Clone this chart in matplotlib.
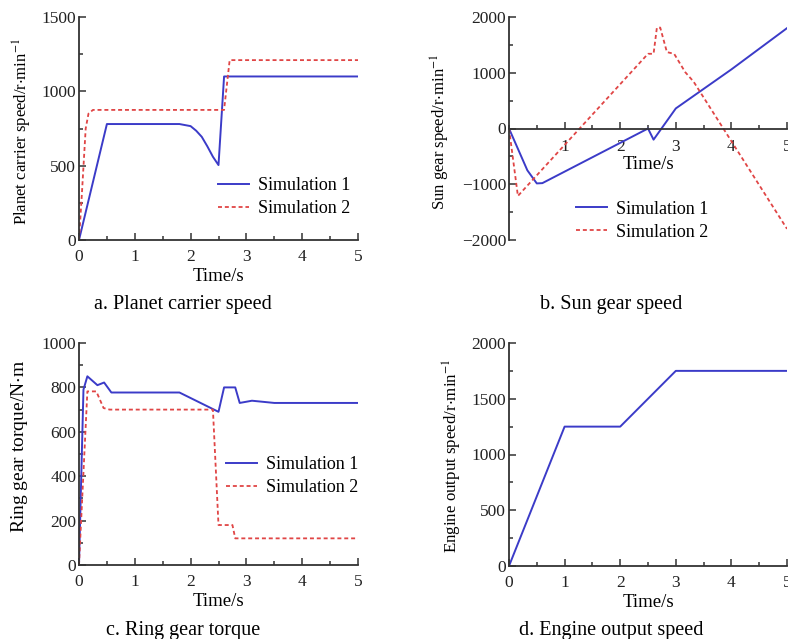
import matplotlib
matplotlib.use("Agg")
import matplotlib.pyplot as plt
from matplotlib.ticker import MultipleLocator, FixedLocator

plt.rcParams['font.family'] = ['Liberation Serif', 'DejaVu Serif']
plt.rcParams['mathtext.fontset'] = 'stix'

# ---- Data ----
# a. Planet carrier speed
a_t1 = [0, 0.5, 1.0, 1.8, 2.0, 2.1, 2.2, 2.3, 2.4, 2.5, 2.6, 5.0]
a_v1 = [0, 780, 780, 780, 766, 735, 694, 630, 560, 504, 1100, 1100]
a_t2 = [0, 0.05, 0.12, 0.17, 0.25, 2.6, 2.7, 5.0]
a_v2 = [0, 300, 750, 850, 875, 875, 1210, 1210]

# b. Sun gear speed
b_t1 = [0, 0.33, 0.5, 0.6, 2.5, 2.6, 3.0, 4.0, 5.0]
b_v1 = [0, -750, -985, -980, 0, -200, 360, 1060, 1800]
b_t2 = [0, 0.16, 2.5, 2.6, 2.66, 2.72, 2.84, 2.97, 3.17, 3.32, 5.0]
b_v2 = [0, -1210, 1340, 1340, 1810, 1810, 1370, 1340, 1010, 840, -1800]

# c. Ring gear torque
c_t1 = [0, 0.08, 0.15, 0.33, 0.45, 0.58, 1.8, 2.5, 2.6, 2.8, 2.88, 3.1, 3.5, 5.0]
c_v1 = [0, 790, 850, 810, 822, 777, 777, 690, 800, 800, 730, 740, 730, 730]
c_t2 = [0, 0.15, 0.31, 0.44, 0.55, 2.4, 2.5, 2.75, 2.8, 5.0]
c_v2 = [0, 782, 782, 707, 700, 700, 180, 180, 120, 120]

# d. Engine output speed
d_t = [0, 1, 2, 3, 5]
d_v = [0, 1250, 1250, 1750, 1750]

series_labels = ["Simulation 1", "Simulation 2"]
captions = ["a. Planet carrier speed", "b. Sun gear speed",
            "c. Ring gear torque", "d. Engine output speed"]
ylabels = ["Planet carrier speed/r$\\cdot$min$^{-1}$",
           "Sun gear speed/r$\\cdot$min$^{-1}$",
           "Ring gear torque/N$\\cdot$m",
           "Engine output speed/r$\\cdot$min$^{-1}$"]

BLUE = '#3b3bc8'
RED = '#e04545'
SPINE = '#333333'
DASH = (0, (2.2, 1.6))

W, H = 788, 639
fig = plt.figure(figsize=(W / 100, H / 100), dpi=100)


def box(x0, x1, ytop, ybot):
    return [x0 / W, 1 - ybot / H, (x1 - x0) / W, (ybot - ytop) / H]


def style(ax, ymaj, ymin, ylim):
    ax.set_xlim(0, 5)
    ax.set_ylim(*ylim)
    ax.xaxis.set_major_locator(MultipleLocator(1))
    ax.xaxis.set_minor_locator(MultipleLocator(0.5))
    ax.yaxis.set_major_locator(MultipleLocator(ymaj))
    ax.yaxis.set_minor_locator(MultipleLocator(ymin))
    for s in ['top', 'right']:
        ax.spines[s].set_visible(False)
    for s in ['left', 'bottom']:
        ax.spines[s].set_color(SPINE)
        ax.spines[s].set_linewidth(1.3)
    ax.tick_params(which='both', direction='in', color=SPINE, width=1.1,
                   labelsize=12.5, labelcolor='#222222')
    ax.tick_params(which='major', length=5)
    ax.tick_params(which='minor', length=3)
    ax.tick_params(axis='x', pad=6.5)
    ax.tick_params(axis='y', pad=2)


def ylab(text, xpx, ypx, size):
    fig.text(xpx / W, 1 - ypx / H, text, rotation=90, ha='center', va='center',
             fontsize=size)


LEG = dict(frameon=False, fontsize=13, handlelength=1.7, handletextpad=0.5,
           labelspacing=0.33, borderaxespad=0)

# ---- a ----
ax = fig.add_axes(box(79, 358, 17, 240))
style(ax, 500, 250, (0, 1500))
ax.plot(a_t1, a_v1, color=BLUE, lw=1.4, label=series_labels[0])
ax.plot(a_t2, a_v2, color=RED, lw=1.3, ls=DASH, label=series_labels[1])
ax.set_xlabel("Time/s", fontsize=13.5, labelpad=2)
ylab(ylabels[0], 22, 132, 12)
ax.legend(loc='lower right', bbox_to_anchor=(0.998, 0.07), **LEG)
fig.text(183 / W, 1 - 305 / H, captions[0], ha='center', va='center', fontsize=14.5)

# ---- b ----
ax = fig.add_axes(box(509, 787, 17, 240))
style(ax, 1000, 500, (-2000, 2000))
ax.spines['bottom'].set_position(('data', 0))
ax.xaxis.set_major_locator(FixedLocator([1, 2, 3, 4, 5]))
ax.tick_params(axis='x', pad=7.5)
ax.plot(b_t1, b_v1, color=BLUE, lw=1.4, label=series_labels[0])
ax.plot(b_t2, b_v2, color=RED, lw=1.3, ls=DASH, label=series_labels[1])
ax.text(0.5, (240 - 164.5) / 223, "Time/s", transform=ax.transAxes,
        ha='center', va='center', fontsize=13.5)
ylab(ylabels[1], 440, 132, 12)
ax.legend(loc='lower center', bbox_to_anchor=(0.48, -0.035), **LEG)
fig.text(611 / W, 1 - 305 / H, captions[1], ha='center', va='center', fontsize=14.5)

# ---- c ----
ax = fig.add_axes(box(79, 358, 343, 565))
style(ax, 200, 100, (0, 1000))
ax.plot(c_t1, c_v1, color=BLUE, lw=1.4, label=series_labels[0])
ax.plot(c_t2, c_v2, color=RED, lw=1.3, ls=DASH, label=series_labels[1])
ax.set_xlabel("Time/s", fontsize=13.5, labelpad=2)
ylab(ylabels[2], 20, 446, 14)
ax.legend(loc='center right', bbox_to_anchor=(1.027, 0.40), **LEG)
fig.text(183 / W, 1 - 630 / H, captions[2], ha='center', va='center', fontsize=14.5)

# ---- d ----
ax = fig.add_axes(box(509, 787, 343, 566))
style(ax, 500, 250, (0, 2000))
ax.plot(d_t, d_v, color=BLUE, lw=1.4)
ax.set_xlabel("Time/s", fontsize=13.5, labelpad=2)
ylab(ylabels[3], 452, 456, 12.2)
fig.text(611 / W, 1 - 630 / H, captions[3], ha='center', va='center', fontsize=14.5)

fig.savefig("out.png", dpi=100, facecolor='white')
